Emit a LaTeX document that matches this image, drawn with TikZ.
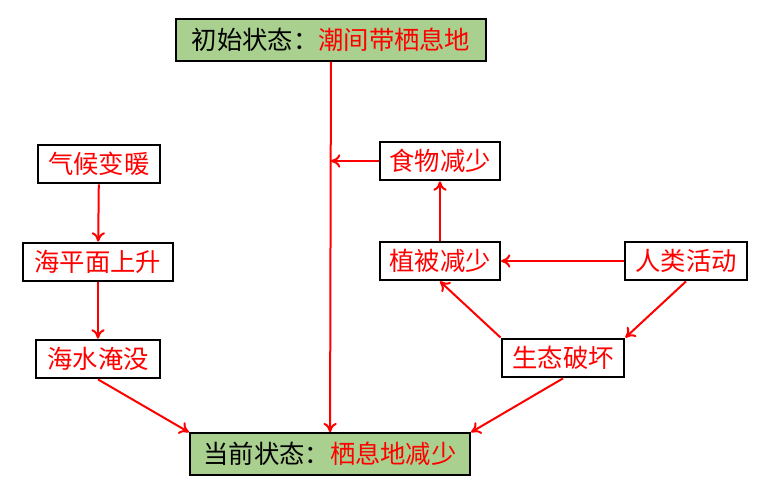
\documentclass[tikz,border=0pt]{standalone}
\usepackage{fontspec}
\newfontfamily\cjk{Noto Sans CJK SC}
\usetikzlibrary{arrows.meta}
\definecolor{boxgreen}{HTML}{A9D08E}
\tikzset{
  box/.style={draw=black, line width=1.6pt, fill=white, text=red, inner sep=0pt,
    minimum height=29pt, font=\cjk\fontsize{19}{21}\selectfont},
  state/.style={box, fill=boxgreen, minimum height=31pt},
  link/.style={draw=red, line width=1.5pt, -{To[length=7pt,width=10pt]}}
}
\begin{document}
\begin{tikzpicture}[x=0.75pt,y=-0.75pt]
\useasboundingbox (0,0) rectangle (765,491);
\node[state, minimum width=232pt] (start) at (331,40) {\color{black}初始状态：\color{red}潮间带栖息地};
\node[state, minimum width=210pt] (now) at (330,454) {\color{black}当前状态：\color{red}栖息地减少};
\node[box, minimum width=91pt] (warm) at (99,164) {气候变暖};
\node[box, minimum width=112pt] (sea) at (98,262) {海平面上升};
\node[box, minimum width=93pt] (flood) at (98,359) {海水淹没};
\node[box, minimum width=90pt] (food) at (440,161) {食物减少};
\node[box, minimum width=90pt] (veg) at (440,261) {植被减少};
\node[box, minimum width=92pt] (human) at (686,261) {人类活动};
\node[box, minimum width=92pt] (damage) at (563,358) {生态破坏};
\coordinate (hit) at (331,161);
% connectors
\draw[link] (start) -- (now);
\draw[link] (food) -- (hit);
\draw[link] (warm) -- (sea);
\draw[link] (sea) -- (flood);
\draw[link] (flood.south) -- (now.north west);
\draw[link] (damage.south) -- (now.north east);
\draw[link] (human) -- (veg);
\draw[link] (veg) -- (food);
\draw[link] (human.south) -- (damage.north east);
\draw[link] (damage.north west) -- (veg.south);
\end{tikzpicture}
\end{document}
